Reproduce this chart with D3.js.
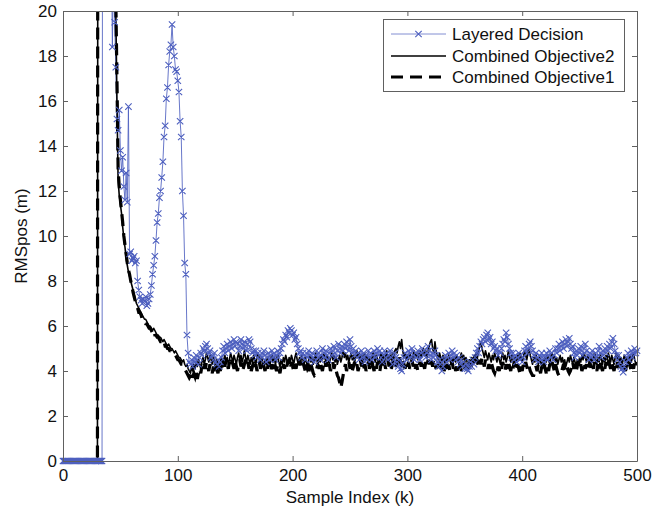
<!DOCTYPE html>
<html>
<head>
<meta charset="utf-8">
<script src="https://cdn.jsdelivr.net/npm/d3@7"></script>
<style>
  body { margin: 0; background: #fff; }
  svg { display: block; }
  text { font-family: "Liberation Sans", Arial, sans-serif; fill: #111; }
</style>
</head>
<body>
<svg id="chart" width="661" height="511"></svg>
<script>
// RMS position error per sample index k = 0..500 for three decision strategies
const seriesNames = ["Layered Decision", "Combined Objective2", "Combined Objective1"];

const layeredDecision = [
  0,0,0,0,0,0,0,0,0,0, 0,0,0,0,0,0,0,0,0,0, 0,0,0,0,0,0,0,0,0,0, 0,0,0,0,0,
  60,52,45,40,35,31,27,24,18.4,22,19.5,17.5,15.2,14.7,15.6,13.8,12.9,13.5,12.2,11.6,12.8,11.5,15.75,
  9.2,9.3,8.9,9.0,9.1,8.8,8.9,8.0,7.6,7.3,7.15,7.0,7.2,7.1,7.3,6.9,7.0,7.2,
  7.4,7.8,8.3,8.7,9.1,9.8,10.6,11.0,11.7,12.0,12.6,13.3,14.4,14.9,16.1,16.6,17.6,18.2,18.5,19.4,
  18.4,18.0,17.4,17.3,16.9,16.4,15.1,14.4,12.0,10.9,8.8,8.3,5.6,4.8,4.4,
  4.3,4.5,4.2,4.6,4.4,4.7,4.5,4.3,4.6,4.8,
  4.7,5.0,4.9,5.1,5.2,5.0,4.8,4.9,4.6,4.7,
  4.5,4.8,4.4,4.3,4.5,4.2,4.4,4.6,4.9,5.1,
  4.8,5.0,5.2,4.9,5.1,5.3,5.0,5.2,5.4,5.1,
  5.3,5.2,4.9,5.1,5.4,5.2,5.0,5.3,5.1,4.9,
  5.2,5.4,5.3,5.0,4.8,4.9,4.7,4.9,4.6,4.8,
  4.7,4.5,4.8,4.6,4.9,4.7,4.4,4.6,4.8,4.5,
  4.7,4.9,4.6,4.8,4.5,4.7,4.9,4.6,4.8,5.0,
  5.2,5.4,5.3,5.6,5.5,5.8,5.7,5.9,5.8,5.6,
  5.7,5.4,5.5,5.2,5.0,4.8,4.9,4.6,4.8,4.7,
  4.5,4.8,4.6,4.9,4.7,4.5,4.8,4.6,4.4,4.7,
  4.9,4.6,4.8,4.5,4.7,5.0,4.8,4.6,4.9,4.7,
  4.5,4.8,5.0,4.7,4.9,5.1,4.8,4.6,4.9,5.2,
  5.0,4.8,5.1,4.9,5.2,5.0,5.3,5.1,4.9,5.4,
  5.1,4.8,5.0,4.7,4.9,4.6,4.8,4.5,4.7,4.9,
  4.6,4.8,4.4,4.7,4.5,4.9,4.6,4.8,4.5,4.7,
  4.9,4.6,4.8,5.0,4.7,4.9,4.6,4.4,4.7,4.9,
  4.6,4.8,4.5,4.7,4.9,4.6,4.3,4.5,4.8,4.6,
  4.4,4.2,4.5,4.1,4.0,4.3,4.6,4.8,4.5,4.7,
  4.9,4.6,4.8,5.0,4.7,4.5,4.8,4.6,4.9,4.7,
  4.5,4.8,5.0,4.7,4.9,4.6,4.8,5.1,4.9,4.7,
  4.5,4.8,4.6,4.9,4.7,4.4,4.2,4.5,4.3,4.0,
  4.2,4.5,4.7,4.4,4.6,4.8,4.5,4.7,4.9,4.6,
  4.8,4.5,4.7,4.4,4.6,4.3,4.5,4.2,4.4,4.1,
  4.3,4.1,4.0,4.2,4.4,4.2,4.5,4.3,4.6,4.8,
  5.0,4.8,5.1,5.3,5.2,5.4,5.5,5.3,5.6,5.7,
  5.4,5.5,5.2,5.3,5.0,5.1,4.9,5.0,4.7,4.9,
  4.8,5.0,5.2,5.4,5.3,5.7,5.5,5.2,5.0,4.8,
  4.6,4.8,4.5,4.7,4.4,4.6,4.8,4.5,4.7,4.4,
  4.6,4.9,5.1,4.8,5.0,5.2,5.3,5.1,4.9,4.7,
  4.5,4.8,4.6,4.4,4.7,4.5,4.8,4.6,4.4,4.6,
  4.8,4.5,4.7,4.9,4.6,4.8,4.5,4.7,5.0,4.8,
  5.0,5.2,4.9,5.1,5.3,5.0,5.2,5.4,5.1,5.3,
  5.45,5.2,5.0,5.1,4.8,4.6,4.9,4.7,5.0,4.8,
  5.1,4.9,4.7,5.0,5.2,4.9,4.7,4.5,4.8,4.6,
  4.9,4.7,4.5,4.8,4.6,4.9,5.1,4.8,4.6,4.9,
  4.7,5.0,4.8,5.1,4.9,5.2,5.0,5.3,5.45,5.2,
  4.9,4.7,4.5,4.7,4.4,4.2,4.1,3.95,4.2,4.4,
  4.6,4.8,4.5,4.7,4.9,4.6,4.8,5.0,4.8,4.9
];

const combinedObjective2 = [
  0,0,0,0,0,0,0,0,0,0, 0,0,0,0,0,0,0,0,0,0, 0,0,0,0,0,0,0,0,0,0, 0,
  80,70,62,55,49,44,40,36,33,30,28,26,24,22.5,21,
  20,16,12.5,11.8,11.4,11.0,10.4,9.9,9.5,9.0,8.7,8.4,8.2,8.0,7.8,7.6,7.4,7.2,7.0,6.9,
  6.8,6.7,6.6,6.5,6.4,6.3,6.3,6.2,6.1,6.0,6.0,5.9,5.8,5.9,5.8,5.7,5.6,5.6,5.5,5.5,
  5.4,5.3,5.4,5.3,5.2,5.1,5.2,5.1,5.0,5.0,4.9,4.8,4.9,4.8,4.7,4.6,4.6,4.5,4.4,4.5,
  4.3,4.2,4.3,4.1,4.0,
  3.9,4.2,4.0,4.3,4.1,4.4,4.2,4.5,4.3,4.1,
  4.4,4.6,4.3,4.5,4.8,4.6,4.4,4.7,4.5,4.3,
  4.6,4.4,4.2,4.5,4.3,4.1,4.4,4.6,4.3,4.5,
  4.7,4.4,4.6,4.3,4.5,4.8,4.6,4.4,4.7,4.5,
  4.3,4.6,4.8,4.5,4.7,4.4,4.6,4.9,4.6,4.4,
  4.7,4.5,4.3,4.6,4.4,4.7,4.5,4.3,4.6,4.8,
  4.5,4.3,4.6,4.4,4.2,4.5,4.3,4.6,4.4,4.2,
  4.5,4.7,4.4,4.6,4.3,4.5,4.7,4.4,4.2,4.5,
  4.3,4.6,4.4,4.7,4.5,4.3,4.6,4.4,4.7,4.5,
  4.3,4.6,4.8,4.5,4.3,4.6,4.4,4.7,4.5,4.3,
  4.6,4.4,4.2,4.5,4.7,4.4,4.6,4.3,4.5,4.8,
  4.5,4.3,4.6,4.4,4.7,4.5,4.8,4.6,4.4,4.7,
  4.5,4.3,4.6,4.8,4.5,4.7,4.4,4.6,4.3,4.5,
  4.7,4.4,4.6,4.9,4.6,4.8,4.5,4.7,4.4,4.6,
  4.8,4.5,4.7,4.4,4.6,4.9,4.6,4.8,4.5,4.7,
  4.4,4.6,4.8,4.5,4.7,4.4,4.6,4.3,4.5,4.8,
  4.6,4.4,4.7,4.5,4.3,4.6,4.8,4.5,4.7,4.4,
  4.6,4.9,4.6,4.4,4.7,4.5,4.8,4.6,4.9,5.0,
  4.8,5.1,5.3,5.0,5.4,4.9,4.6,4.8,4.5,4.7,
  4.5,4.8,4.6,4.4,4.7,4.9,4.6,4.8,4.5,4.7,
  4.9,4.6,4.8,5.0,4.7,4.9,4.6,4.8,5.1,5.3,
  5.4,5.0,4.8,5.3,4.9,4.7,4.5,4.8,4.6,4.4,
  4.7,4.5,4.3,4.6,4.4,4.7,4.5,4.3,4.6,4.4,
  4.6,4.4,4.7,4.5,4.3,4.6,4.8,4.5,4.7,4.4,
  4.6,4.4,4.2,4.5,4.3,4.6,4.4,4.7,4.5,4.8,
  4.6,4.9,5.1,5.3,5.0,4.8,4.6,4.9,4.7,4.5,
  4.8,4.6,4.4,4.7,4.5,4.8,4.6,4.4,4.7,4.5,
  4.3,4.6,4.8,4.5,4.7,4.4,4.6,4.9,4.6,4.4,
  4.7,4.5,4.3,4.6,4.4,4.7,4.5,4.8,4.6,4.4,
  4.6,4.9,4.7,4.5,4.8,5.0,4.7,4.5,4.3,4.6,
  4.4,4.7,4.5,4.3,4.6,4.4,4.2,4.5,4.3,4.6,
  4.4,4.7,4.5,4.3,4.6,4.8,4.5,4.7,4.4,4.6,
  4.3,4.5,4.7,4.4,4.6,4.3,4.5,4.2,4.4,4.6,
  4.4,4.7,4.5,4.3,4.6,4.4,4.2,4.5,4.3,4.6,
  4.4,4.7,4.5,4.8,4.6,4.4,4.7,4.5,4.3,4.6,
  4.4,4.6,4.8,4.5,4.3,4.6,4.4,4.7,4.5,4.3,
  4.6,4.4,4.7,4.5,4.8,4.6,4.4,4.7,4.5,4.3,
  4.6,4.8,4.5,4.7,4.4,4.6,4.3,4.5,4.7,4.4,
  4.6,4.3,4.5,4.7,4.4,4.6,4.8,4.5,4.3,4.4
];

const combinedObjective1 = [
  0,0,0,0,0,0,0,0,0,0, 0,0,0,0,0,0,0,0,0,0, 0,0,0,0,0,0,0,0,0,0, 0,
  90,78,68,60,53,47,42,38,34,31,28.5,26.5,24.5,23,21.5,
  20.5,17,13,12.2,11.6,11.1,10.6,10.0,9.6,9.2,8.8,8.5,8.3,8.0,7.8,7.5,7.3,7.1,6.9,6.8,
  6.6,6.6,6.5,6.3,6.3,6.2,6.1,6.1,6.0,5.9,5.9,5.8,5.7,5.8,5.6,5.6,5.5,5.5,5.4,5.3,
  5.3,5.2,5.3,5.1,5.1,5.0,5.0,4.9,4.9,4.8,4.8,4.7,4.7,4.6,4.5,4.5,4.4,4.3,4.3,4.2,
  4.1,4.0,3.9,3.8,3.7,
  3.8,4.0,3.7,3.9,3.75,4.0,3.65,3.9,4.1,3.9,
  4.2,4.0,4.3,4.1,4.4,4.2,4.0,4.3,4.1,3.9,
  4.2,4.0,4.3,4.1,3.9,4.2,4.0,4.3,4.1,4.4,
  4.2,4.5,4.3,4.1,4.4,4.2,4.5,4.3,4.1,4.4,
  4.2,4.0,4.3,4.5,4.2,4.4,4.1,4.3,4.5,4.2,
  4.4,4.1,4.3,4.0,4.2,4.4,4.1,4.3,4.0,4.2,
  4.4,4.1,4.3,4.5,4.2,4.0,4.3,4.1,4.4,4.2,
  4.0,4.3,4.1,4.4,4.2,4.0,4.3,4.1,3.9,4.2,
  4.0,4.3,4.1,4.4,4.2,4.5,4.3,4.1,4.4,4.2,
  4.0,4.3,4.1,4.4,4.2,4.5,4.3,4.1,4.4,4.2,
  4.0,4.3,4.1,4.2,4.0,4.3,4.1,3.9,3.8,3.85,
  4.1,4.3,4.1,4.4,4.2,4.0,4.3,4.5,4.2,4.4,
  4.1,4.3,4.0,4.2,4.4,4.1,4.3,4.0,3.8,3.7,
  3.5,3.25,3.5,3.8,4.1,4.3,4.0,4.2,4.4,4.1,
  4.3,4.0,4.2,4.4,4.1,4.3,4.0,4.2,4.5,4.2,
  4.4,4.1,4.3,4.0,4.2,4.4,4.1,4.3,4.5,4.2,
  4.0,4.3,4.1,4.4,4.2,4.0,4.3,4.5,4.2,4.4,
  4.1,4.3,4.5,4.2,4.4,4.1,4.3,4.6,4.4,4.2,
  4.5,4.3,4.6,4.4,4.2,4.5,4.3,4.1,4.4,4.2,
  4.4,4.1,4.3,4.5,4.2,4.4,4.1,4.3,4.0,4.2,
  4.4,4.2,4.5,4.3,4.1,4.4,4.2,4.5,4.3,4.6,
  4.4,4.2,4.5,4.3,4.1,4.3,4.0,4.2,4.4,4.1,
  4.3,4.0,4.2,4.4,4.1,4.3,4.0,4.2,4.4,4.1,
  4.3,4.0,4.2,3.9,4.1,4.3,4.0,4.2,4.4,4.1,
  4.3,4.0,4.2,4.4,4.1,4.3,4.5,4.2,4.4,4.6,
  4.4,4.2,4.5,4.3,4.6,4.4,4.2,4.5,4.3,4.1,
  4.3,4.1,4.4,4.2,4.0,3.9,4.1,3.95,4.2,4.0,
  4.3,4.1,4.4,4.2,4.0,4.3,4.1,4.4,4.2,4.0,
  4.3,4.1,4.4,4.2,4.0,4.3,4.1,3.9,4.2,4.0,
  4.3,4.1,4.4,4.2,4.0,4.2,4.0,3.9,3.8,3.8,
  4.0,4.2,4.0,4.3,4.1,3.9,4.2,4.0,4.3,4.1,
  3.9,4.2,4.0,4.3,4.1,4.4,4.2,4.0,4.3,4.1,
  3.9,3.8,3.8,3.9,4.1,4.3,4.1,4.0,4.2,4.0,
  3.9,4.0,4.2,4.4,4.1,4.3,4.0,4.2,4.4,4.1,
  4.3,4.0,4.2,4.4,4.1,4.3,4.0,4.2,4.4,4.1,
  4.3,4.1,4.4,4.2,4.0,4.3,4.1,4.4,4.2,4.0,
  4.3,4.1,4.4,4.2,4.5,4.3,4.1,4.4,4.2,4.0,
  4.3,4.1,4.4,4.2,4.0,4.3,4.1,4.4,4.2,4.0,
  4.3,4.1,4.4,4.2,4.0,4.3,4.1,4.4,4.2,4.3
];

const xTicks = [0, 100, 200, 300, 400, 500];
const yTicks = [0, 2, 4, 6, 8, 10, 12, 14, 16, 18, 20];
const xLabel = "Sample Index (k)";
const yLabel = "RMSpos (m)";

// ---- layout ----
const plot = { left: 63, right: 637, top: 11, bottom: 461 };
const blue = "#4d5fbf";
const axisColor = "#606060";
const fontSize = 17;

const svg = d3.select("#chart");
const x = d3.scaleLinear().domain([0, 500]).range([plot.left, plot.right]);
const y = d3.scaleLinear().domain([0, 20]).range([plot.bottom, plot.top]);

// clip region for the curves (the top edge cuts the off-scale transients)
svg.append("defs").append("clipPath").attr("id", "plotClip")
  .append("rect")
  .attr("x", plot.left).attr("y", plot.top)
  .attr("width", plot.right - plot.left).attr("height", plot.bottom - plot.top + 2);

const toPoints = arr => arr.map((v, k) => ({ k, v }));
const line = d3.line().x(d => x(d.k)).y(d => y(d.v));

const curves = svg.append("g").attr("clip-path", "url(#plotClip)");

// Layered Decision: thin blue line with x markers
curves.append("path")
  .datum(toPoints(layeredDecision))
  .attr("d", line)
  .attr("fill", "none")
  .attr("stroke", blue)
  .attr("stroke-opacity", 0.85)
  .attr("stroke-width", 1);

// Combined Objective2: solid black
curves.append("path")
  .datum(toPoints(combinedObjective2))
  .attr("d", line)
  .attr("fill", "none")
  .attr("stroke", "#000")
  .attr("stroke-width", 1.6)
  .attr("stroke-linejoin", "round");

// Combined Objective1: heavy dashed black
curves.append("path")
  .datum(toPoints(combinedObjective1))
  .attr("d", line)
  .attr("fill", "none")
  .attr("stroke", "#000")
  .attr("stroke-width", 3.2)
  .attr("stroke-dasharray", "12,7");

// x markers of the Layered Decision series (only for points inside the y range)
const markerHalf = 3.2;
const xMark = (cx, cy) => `M${cx - markerHalf},${cy - markerHalf}L${cx + markerHalf},${cy + markerHalf}M${cx - markerHalf},${cy + markerHalf}L${cx + markerHalf},${cy - markerHalf}`;
svg.append("path")
  .attr("d", toPoints(layeredDecision)
    .filter(d => d.v <= 20)
    .map(d => xMark(x(d.k), y(d.v))).join(""))
  .attr("fill", "none")
  .attr("stroke", blue)
  .attr("stroke-width", 1.1);

// ---- axes (box with inward ticks on all four sides) ----
function styleAxis(g) {
  g.selectAll("path.domain").attr("stroke", axisColor).attr("stroke-width", 1);
  g.selectAll(".tick line").attr("stroke", axisColor).attr("stroke-width", 1);
  g.selectAll("text").attr("font-size", fontSize).attr("fill", "#111")
    .attr("font-family", '"Liberation Sans", Arial, sans-serif');
}

svg.append("g")
  .attr("transform", `translate(0,${plot.bottom})`)
  .call(d3.axisBottom(x).tickValues(xTicks).tickFormat(d3.format("d"))
    .tickSizeInner(-5).tickSizeOuter(0).tickPadding(8))
  .call(styleAxis);

svg.append("g")
  .attr("transform", `translate(0,${plot.top})`)
  .call(d3.axisTop(x).tickValues(xTicks).tickFormat("")
    .tickSizeInner(-5).tickSizeOuter(0))
  .call(styleAxis);

svg.append("g")
  .attr("transform", `translate(${plot.left},0)`)
  .call(d3.axisLeft(y).tickValues(yTicks).tickFormat(d3.format("d"))
    .tickSizeInner(-5).tickSizeOuter(0).tickPadding(6))
  .call(styleAxis);

svg.append("g")
  .attr("transform", `translate(${plot.right},0)`)
  .call(d3.axisRight(y).tickValues(yTicks).tickFormat("")
    .tickSizeInner(-5).tickSizeOuter(0))
  .call(styleAxis);

svg.selectAll(".tick text").attr("font-size", fontSize);

// axis titles
svg.append("text")
  .attr("x", (plot.left + plot.right) / 2)
  .attr("y", 503)
  .attr("text-anchor", "middle")
  .attr("font-size", fontSize)
  .text(xLabel);

svg.append("text")
  .attr("transform", `translate(27,${(plot.top + plot.bottom) / 2}) rotate(-90)`)
  .attr("text-anchor", "middle")
  .attr("font-size", fontSize)
  .text(yLabel);

// ---- legend ----
const legend = svg.append("g");
legend.append("rect")
  .attr("x", 383.5).attr("y", 19.5)
  .attr("width", 241).attr("height", 72)
  .attr("fill", "#fff")
  .attr("stroke", axisColor)
  .attr("stroke-width", 1);

const legendRows = [
  { name: seriesNames[0], y: 34, stroke: blue, width: 1, dash: null, marker: true, opacity: 0.7 },
  { name: seriesNames[1], y: 56, stroke: "#000", width: 1.6, dash: null, marker: false, opacity: 1 },
  { name: seriesNames[2], y: 77, stroke: "#000", width: 3.2, dash: "12,7", marker: false, opacity: 1 }
];
const lx0 = 391, lx1 = 446;
legendRows.forEach(r => {
  legend.append("line")
    .attr("x1", lx0).attr("x2", lx1).attr("y1", r.y).attr("y2", r.y)
    .attr("stroke", r.stroke).attr("stroke-width", r.width)
    .attr("stroke-opacity", r.opacity)
    .attr("stroke-dasharray", r.dash);
  if (r.marker) {
    legend.append("path")
      .attr("d", xMark((lx0 + lx1) / 2, r.y))
      .attr("fill", "none").attr("stroke", blue).attr("stroke-width", 1.1);
  }
  legend.append("text")
    .attr("x", 452).attr("y", r.y)
    .attr("dy", "0.35em")
    .attr("font-size", fontSize)
    .text(r.name);
});
</script>
</body>
</html>
